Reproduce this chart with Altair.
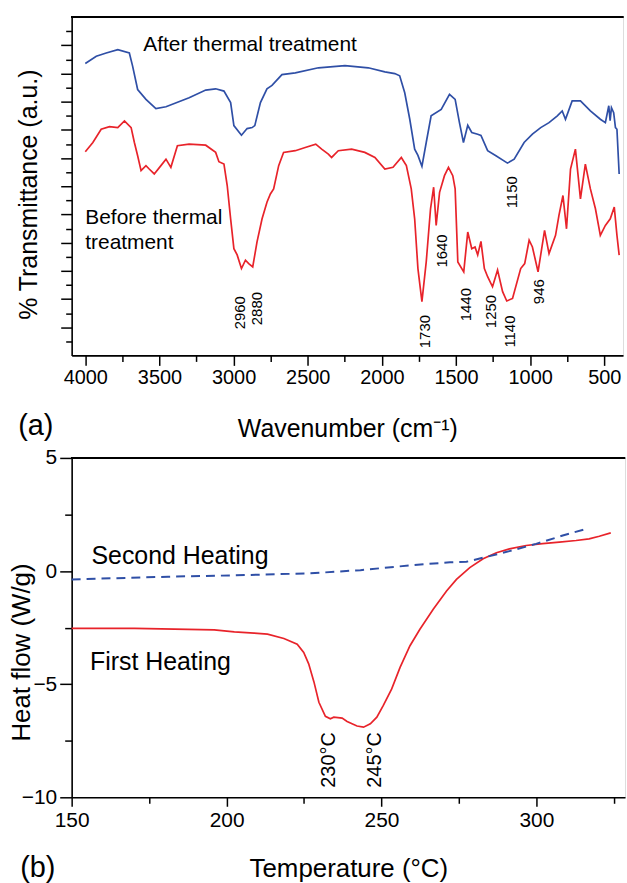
import altair as alt
import pandas as pd

FONT = "Liberation Sans"

# ---------------- FTIR data (panel a) ----------------
after_wn = [4000, 3926, 3859, 3781, 3703, 3681, 3647, 3591, 3524, 3456, 3300, 3188, 3121, 3065, 3020,
            2998, 2947, 2909, 2875, 2857, 2819, 2775, 2741, 2674, 2584, 2428, 2249, 2092, 1980, 1913,
            1880, 1846, 1812, 1779, 1757, 1730, 1701, 1668, 1600, 1544, 1506, 1477, 1450, 1421, 1394,
            1354, 1332, 1287, 1231, 1153, 1108, 1041, 985, 929, 873, 817, 784, 762, 717, 661,
            594, 527, 493, 470, 461, 452, 437, 425, 415, 400]
after_t = [20.70, 21.22, 21.45, 21.69, 21.45, 20.52, 18.86, 18.16, 17.50, 17.64, 18.28, 18.82, 18.91, 18.75, 17.93,
           16.30, 15.62, 16.09, 16.16, 16.30, 17.93, 18.91, 19.15, 19.92, 20.04, 20.40, 20.56, 20.40, 20.11, 19.99,
           19.83, 18.63, 16.75, 14.63, 14.19, 13.41, 15.10, 16.99, 17.45, 18.51, 18.16, 16.51, 15.10, 16.32, 15.81,
           15.69, 15.60, 14.52, 14.16, 13.64, 13.92, 15.10, 15.69, 16.16, 16.51, 16.99, 17.34, 16.75, 18.05, 18.05,
           17.34, 16.75, 16.51, 17.71, 16.65, 17.57, 17.22, 16.16, 16.04, 12.87]

before_wn = [4000, 3949, 3893, 3837, 3781, 3736, 3691, 3669, 3647, 3624, 3591, 3569, 3535, 3490, 3456,
             3423, 3379, 3300, 3188, 3121, 3099, 3065, 3043, 3020, 2998, 2976, 2947, 2920, 2898, 2871,
             2842, 2808, 2775, 2752, 2730, 2696, 2663, 2584, 2517, 2446, 2406, 2361, 2339, 2294, 2204,
             2115, 2047, 1980, 1925, 1869, 1835, 1802, 1779, 1757, 1730, 1701, 1672, 1651, 1634, 1611,
             1578, 1551, 1522, 1506, 1488, 1448, 1421, 1394, 1372, 1354, 1332, 1309, 1287, 1254, 1220,
             1186, 1158, 1119, 1064, 1037, 1007, 985, 947, 903, 873, 829, 806, 779, 755, 728,
             695, 661, 628, 594, 560, 527, 493, 460, 433, 415, 400]
before_t = [14.45, 15.10, 16.04, 16.23, 16.16, 16.63, 16.16, 15.10, 14.16, 13.11, 13.46, 13.22, 12.87, 13.46, 13.92,
            13.34, 14.87, 14.98, 14.91, 14.40, 13.74, 13.57, 12.05, 9.69, 7.57, 7.13, 6.16, 6.75, 6.51, 6.28,
            8.05, 9.69, 10.87, 11.45, 11.81, 13.46, 14.40, 14.52, 14.75, 14.98, 14.63, 14.28, 14.04, 14.52, 14.63,
            14.40, 14.04, 13.22, 13.34, 14.04, 13.46, 11.81, 9.69, 6.16, 3.81, 6.63, 10.40, 11.93, 9.22, 11.57,
            12.75, 13.34, 12.75, 11.81, 6.63, 5.93, 8.75, 7.57, 7.69, 7.13, 8.09, 6.16, 5.58, 4.87, 6.05,
            4.52, 3.86, 4.04, 6.16, 6.51, 8.17, 7.69, 5.93, 8.87, 7.22, 8.52, 9.93, 11.34, 8.98, 13.22,
            14.63, 11.10, 13.57, 11.81, 10.40, 8.52, 9.22, 9.69, 10.52, 8.52, 7.11]

peak_labels = ["2960", "2880", "1730", "1640", "1440", "1250", "1140", "946", "1150"]
peak_wn = [2960, 2845, 1710, 1596, 1435, 1267, 1133, 939, 1120]
peak_t = [3.03, 3.32, 1.69, 7.41, 3.60, 3.11, 1.69, 4.52, 11.57]

ftir_text = ["After thermal treatment", "Before thermal", "treatment"]
ftir_text_wn = [3609, 4000, 4000]
ftir_text_t = [22.02, 9.74, 8.00]

# ---------------- DSC data (panel b) ----------------
first_T = [150, 170.3, 183.2, 196.0, 202.5, 208.9, 213.2, 218.5, 222.8, 224.9, 226.5, 228.2, 229.8, 231.9, 233.5,
           234.6, 237.3, 238.9, 242.1, 244.2, 246.4, 248.5, 250.6, 253.3, 256.0, 259.2, 262.4, 266.7, 271.0, 274.2,
           278.5, 282.8, 287.1, 291.3, 296.7, 302.0, 307.4, 312.8, 317.0, 320.3, 324.0]
first_H = [-2.53, -2.53, -2.57, -2.60, -2.69, -2.74, -2.79, -2.98, -3.23, -3.60, -4.10, -4.90, -5.80, -6.42, -6.53,
           -6.46, -6.50, -6.65, -6.85, -6.90, -6.75, -6.46, -5.94, -5.21, -4.26, -3.30, -2.57, -1.69, -0.88, -0.37,
           0.15, 0.54, 0.81, 0.98, 1.13, 1.21, 1.28, 1.35, 1.42, 1.54, 1.69]

second_T = [150, 181.1, 202.5, 227.1, 243.2, 259.2, 272.1, 277.4, 282.8, 291.3, 299.9, 308.5, 316.0]
second_H = [-0.37, -0.25, -0.19, -0.10, 0.04, 0.25, 0.39, 0.41, 0.59, 0.88, 1.20, 1.57, 1.86]

dsc_text = ["Second Heating", "First Heating"]
dsc_text_T = [156.4, 155.9]
dsc_text_H = [0.66, -4.04]

peak_T_labels = ["230°C", "245°C"]
peak_T = [233.0, 248.0]
peak_T_H = [-8.35, -8.35]

# tick positions
x_major_a = list(range(500, 4001, 500))
x_minor_a = list(range(750, 3751, 500))
y_major_a = list(range(2, 23, 2))
y_minor_a = list(range(1, 24, 2))
x_major_b = [150, 200, 250, 300]
x_minor_b = [175, 225, 275, 325]
y_major_b = [-10, -5, 0, 5]
y_minor_b = [-7.5, -2.5, 2.5]

WA, HA = 554, 340
WB, HB = 556, 341
BLUE = "#2f4fa6"
RED = "#e8232a"

COMMON = dict(domainColor="black", domainWidth=1.6, tickColor="black", tickWidth=1.5, grid=False,
              labelFlush=False)
TITLE = dict(titleFontWeight="normal", titleFont=FONT, titleColor="black")


def minor_axis(vals, size, orient):
    return alt.Axis(values=vals, labels=False, tickSize=size, domain=False, title=None,
                    orient=orient, tickColor="black", tickWidth=1.5, grid=False)


# ---------------- panel a ----------------
after_df = pd.DataFrame({"wn": after_wn, "t": after_t})
before_df = pd.DataFrame({"wn": before_wn, "t": before_t})
peaks_df = pd.DataFrame({"wn": peak_wn, "t": peak_t, "label": peak_labels})
ftxt_df = pd.DataFrame({"wn": ftir_text_wn, "t": ftir_text_t, "label": ftir_text})

xa_scale = alt.Scale(domain=[374, 4092], reverse=True, nice=False, zero=False)
ya_scale = alt.Scale(domain=[0, 24], nice=False, zero=False)

xa_axis = alt.Axis(values=x_major_a, format="d", tickSize=10, orient="bottom",
                   labelFontSize=20, labelFont=FONT, labelColor="black", labelPadding=2,
                   title="Wavenumber (cm⁻¹)", titleFontSize=25, titleY=73, titleBaseline="middle",
                   **COMMON, **TITLE)
ya_axis = alt.Axis(values=y_major_a, labels=False, tickSize=11, orient="left",
                   title="% Transmittance (a.u.)", titleFontSize=25, titleX=-43, titleY=178,
                   titleBaseline="middle", titleAngle=270, **COMMON, **TITLE)

line_after = alt.Chart(after_df).mark_line(color=BLUE, strokeWidth=1.7).encode(
    x=alt.X("wn:Q", scale=xa_scale, axis=xa_axis),
    y=alt.Y("t:Q", scale=ya_scale, axis=ya_axis))
line_before = alt.Chart(before_df).mark_line(color=RED, strokeWidth=1.7).encode(
    x=alt.X("wn:Q", axis=minor_axis(x_minor_a, 6, "bottom")),
    y=alt.Y("t:Q", axis=minor_axis(y_minor_a, 6, "left")))
peak_txt = alt.Chart(peaks_df).mark_text(angle=270, align="center", baseline="middle", fontSize=15,
                                         font=FONT, color="black").encode(
    x=alt.X("wn:Q", axis=None), y=alt.Y("t:Q", axis=None), text="label:N")
ftxt = alt.Chart(ftxt_df).mark_text(align="left", baseline="middle", fontSize=21, font=FONT,
                                    color="black").encode(
    x=alt.X("wn:Q", axis=None), y=alt.Y("t:Q", axis=None), text="label:N")
top_a = alt.Chart(after_df).mark_rule(color="black", strokeWidth=2).encode(
    x=alt.value(0), x2=alt.value(WA), y=alt.value(0))
lab_a = alt.Chart(pd.DataFrame({"label": ["(a)"]})).mark_text(
    align="center", baseline="middle", fontSize=29, font=FONT, color="black").encode(
    x=alt.value(-36), y=alt.value(411), text="label:N")
ext_a = alt.Chart(pd.DataFrame({"label": ["(a)"]})).mark_rule(strokeOpacity=0).encode(
    x=alt.value(-66), y=alt.value(100), y2=alt.value(101))

panel_a = alt.layer(line_after, line_before, peak_txt, ftxt, top_a, lab_a, ext_a).properties(
    width=WA, height=HA).resolve_axis(x="independent", y="independent")

# ---------------- panel b ----------------
first_df = pd.DataFrame({"T": first_T, "H": first_H})
second_df = pd.DataFrame({"T": second_T, "H": second_H})
dtxt_df = pd.DataFrame({"T": dsc_text_T, "H": dsc_text_H, "label": dsc_text})
dpk_df = pd.DataFrame({"T": peak_T, "H": peak_T_H, "label": peak_T_labels})

xb_scale = alt.Scale(domain=[150, 328.6], nice=False, zero=False)
yb_scale = alt.Scale(domain=[-10, 5], nice=False, zero=False)

xb_axis = alt.Axis(values=x_major_b, format="d", tickSize=9, orient="bottom",
                   labelFontSize=21, labelFont=FONT, labelColor="black", labelPadding=3,
                   title="Temperature (°C)", titleFontSize=26, titleY=72, titleBaseline="middle",
                   **COMMON, **TITLE)
yb_axis = alt.Axis(values=y_major_b, format="d", tickSize=12, orient="left",
                   labelFontSize=21, labelFont=FONT, labelColor="black", labelPadding=3,
                   title="Heat flow (W/g)", titleFontSize=26, titleX=-50, titleY=195,
                   titleBaseline="middle", titleAngle=270, **COMMON, **TITLE)

line_first = alt.Chart(first_df).mark_line(color=RED, strokeWidth=1.7).encode(
    x=alt.X("T:Q", scale=xb_scale, axis=xb_axis),
    y=alt.Y("H:Q", scale=yb_scale, axis=yb_axis))
line_second = alt.Chart(second_df).mark_line(color=BLUE, strokeWidth=2, strokeDash=[9, 6]).encode(
    x=alt.X("T:Q", axis=minor_axis(x_minor_b, 6, "bottom")),
    y=alt.Y("H:Q", axis=minor_axis(y_minor_b, 7, "left")))
dtxt = alt.Chart(dtxt_df).mark_text(align="left", baseline="middle", fontSize=25, font=FONT,
                                    color="black").encode(
    x=alt.X("T:Q", axis=None), y=alt.Y("H:Q", axis=None), text="label:N")
dpk = alt.Chart(dpk_df).mark_text(angle=270, align="center", baseline="middle", fontSize=20, font=FONT,
                                  color="black").encode(
    x=alt.X("T:Q", axis=None), y=alt.Y("H:Q", axis=None), text="label:N")
top_b = alt.Chart(first_df).mark_rule(color="black", strokeWidth=2).encode(
    x=alt.value(0), x2=alt.value(WB), y=alt.value(0))
lab_b = alt.Chart(pd.DataFrame({"label": ["(b)"]})).mark_text(
    align="center", baseline="middle", fontSize=29, font=FONT, color="black").encode(
    x=alt.value(-34), y=alt.value(412), text="label:N")
ext_b = alt.Chart(pd.DataFrame({"label": ["(b)"]})).mark_rule(strokeOpacity=0).encode(
    x=alt.value(-66), y=alt.value(100), y2=alt.value(101))

panel_b = alt.layer(line_first, line_second, dtxt, dpk, top_b, lab_b, ext_b).properties(
    width=WB, height=HB).resolve_axis(x="independent", y="independent")

chart = alt.vconcat(panel_a, panel_b, spacing=4).properties(
    padding={"left": 5, "top": 13, "right": 0, "bottom": 0}
).configure_view(stroke=None).configure(background="white")

chart.save("out.html", embed_options={"renderer": "svg", "actions": False})
